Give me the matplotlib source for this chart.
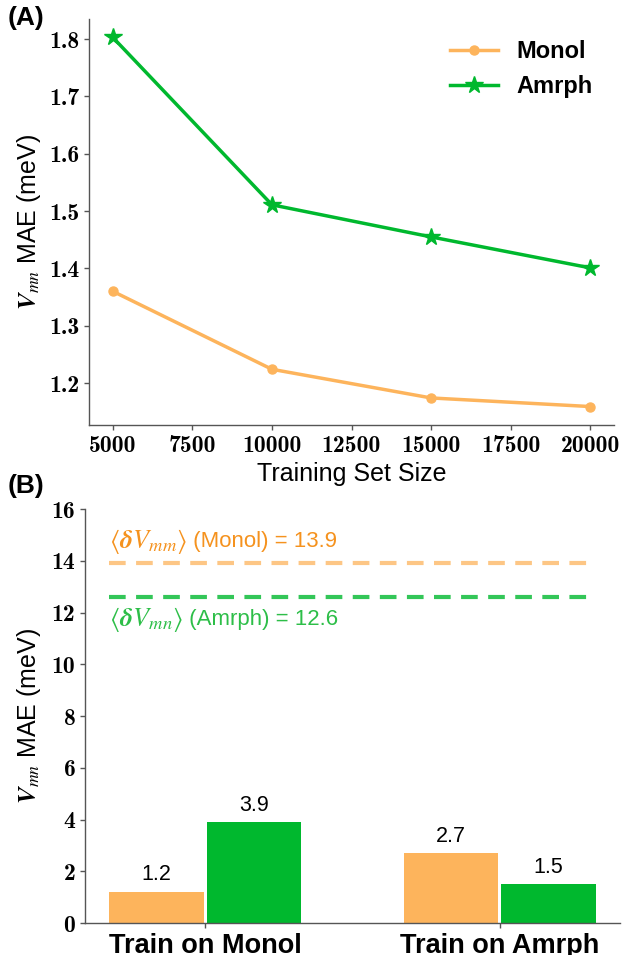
import matplotlib
matplotlib.use("Agg")
import matplotlib.pyplot as plt

plt.rcParams['font.family'] = ['Liberation Sans', 'DejaVu Sans']
plt.rcParams['mathtext.fontset'] = 'cm'

# Panel A: learning curves
train_sizes = [5000, 10000, 15000, 20000]
mae_monol = [1.360, 1.224, 1.174, 1.159]
mae_amrph = [1.803, 1.511, 1.455, 1.401]
xticks_a = [5000, 7500, 10000, 12500, 15000, 17500, 20000]
yticks_a = [1.2, 1.3, 1.4, 1.5, 1.6, 1.7, 1.8]

# Panel B: cross-domain MAE
groups = ['Train on Monol', 'Train on Amrph']
bar_monol = [1.2, 2.7]
bar_amrph = [3.9, 1.5]
mean_dv_monol = 13.9
mean_dv_amrph = 12.6
yticks_b = [0, 2, 4, 6, 8, 10, 12, 14, 16]

c_orange = '#FDB45C'
c_green = '#00B82E'
c_orange_txt = '#F5921E'
c_green_txt = '#2DBE48'
spine_col = '#555555'
tick_font = dict(family='cmb10', size=17)

fig = plt.figure(figsize=(6.23, 9.55), dpi=100)
W, H = 623, 955


def px_axes(x0, y0, x1, y1):
    return fig.add_axes([x0 / W, 1 - y1 / H, (x1 - x0) / W, (y1 - y0) / H])


def style(ax):
    for s in ['top', 'right']:
        ax.spines[s].set_visible(False)
    for s in ['left', 'bottom']:
        ax.spines[s].set_color(spine_col)
        ax.spines[s].set_linewidth(1.0)
    ax.tick_params(length=3.5, width=1.0, color=spine_col)


ylabel_txt = r'$\boldsymbol{V}_{mn}$ MAE (meV)'

# ---- (A) ----
axA = px_axes(89, 19, 614, 425)
style(axA)
axA.plot(train_sizes, mae_monol, '-o', color=c_orange, lw=2.5, ms=6.5, label='Monol')
axA.plot(train_sizes, mae_amrph, '-*', color=c_green, lw=2.5, ms=13, label='Amrph')
axA.set_xticks(xticks_a)
axA.set_xticklabels(['%d' % v for v in xticks_a], fontdict=tick_font)
axA.set_yticks(yticks_a)
axA.set_yticklabels(['%.1f' % v for v in yticks_a], fontdict=tick_font)
axA.set_xlabel('Training Set Size', fontsize=18, labelpad=4)
axA.set_ylabel(ylabel_txt, fontsize=18, labelpad=4, math_fontfamily='stix')
axA.legend(loc='upper right', frameon=False, prop={'size': 17, 'weight': 'bold'})
fig.text(8 / W, 1 - 6 / H, '(A)', fontsize=19, fontweight='bold', va='top', ha='left')

# ---- (B) ----
axB = px_axes(85, 509, 620, 923)
style(axB)
xpos = [0, 1]
w = 0.32
off = 0.165
bars1 = axB.bar([x - off for x in xpos], bar_monol, width=w, color=c_orange)
bars2 = axB.bar([x + off for x in xpos], bar_amrph, width=w, color=c_green)
for bars, vals in [(bars1, bar_monol), (bars2, bar_amrph)]:
    for b, v in zip(bars, vals):
        axB.text(b.get_x() + b.get_width() / 2, v + 0.25, '%.1f' % v,
                 ha='center', va='bottom', fontsize=15.5)
axB.set_ylim(0, 16)
axB.set_yticks(yticks_b)
axB.set_yticklabels(['%d' % v for v in yticks_b], fontdict=tick_font)
axB.set_xticks(xpos)
axB.set_xticklabels(groups, fontsize=19.5, fontweight='bold')
axB.set_ylabel(ylabel_txt, fontsize=18, labelpad=6, math_fontfamily='stix')

x_lo, x_hi = -off - w / 2, 1 + off + w / 2
axB.hlines(mean_dv_monol, x_lo, x_hi, colors=c_orange, linestyles=(0, (4, 2.5)), lw=3, alpha=0.75)
axB.hlines(mean_dv_amrph, x_lo, x_hi, colors=c_green, linestyles=(0, (4, 2.5)), lw=3, alpha=0.8)

# mean-gap annotations: a larger math symbol followed by the plain label
for y, sub, name, val, col, va, dy in [
        (mean_dv_monol, 'mm', 'Monol', mean_dv_monol, c_orange_txt, 'bottom', 0.3),
        (mean_dv_amrph, 'mn', 'Amrph', mean_dv_amrph, c_green_txt, 'top', -0.3)]:
    t_math = axB.text(x_lo, y + dy, r'$\langle\boldsymbol{\delta V_{%s}}\rangle$' % sub,
                      color=col, fontsize=19, ha='left', va=va, math_fontfamily='stix')
    axB.annotate(' (%s) = %.1f' % (name, val), xy=(1, 0.5), xycoords=t_math,
                 color=col, fontsize=16, ha='left', va='center')
fig.text(8 / W, 1 - 474 / H, '(B)', fontsize=19, fontweight='bold', va='top', ha='left')

fig.savefig('out.png', dpi=100)
